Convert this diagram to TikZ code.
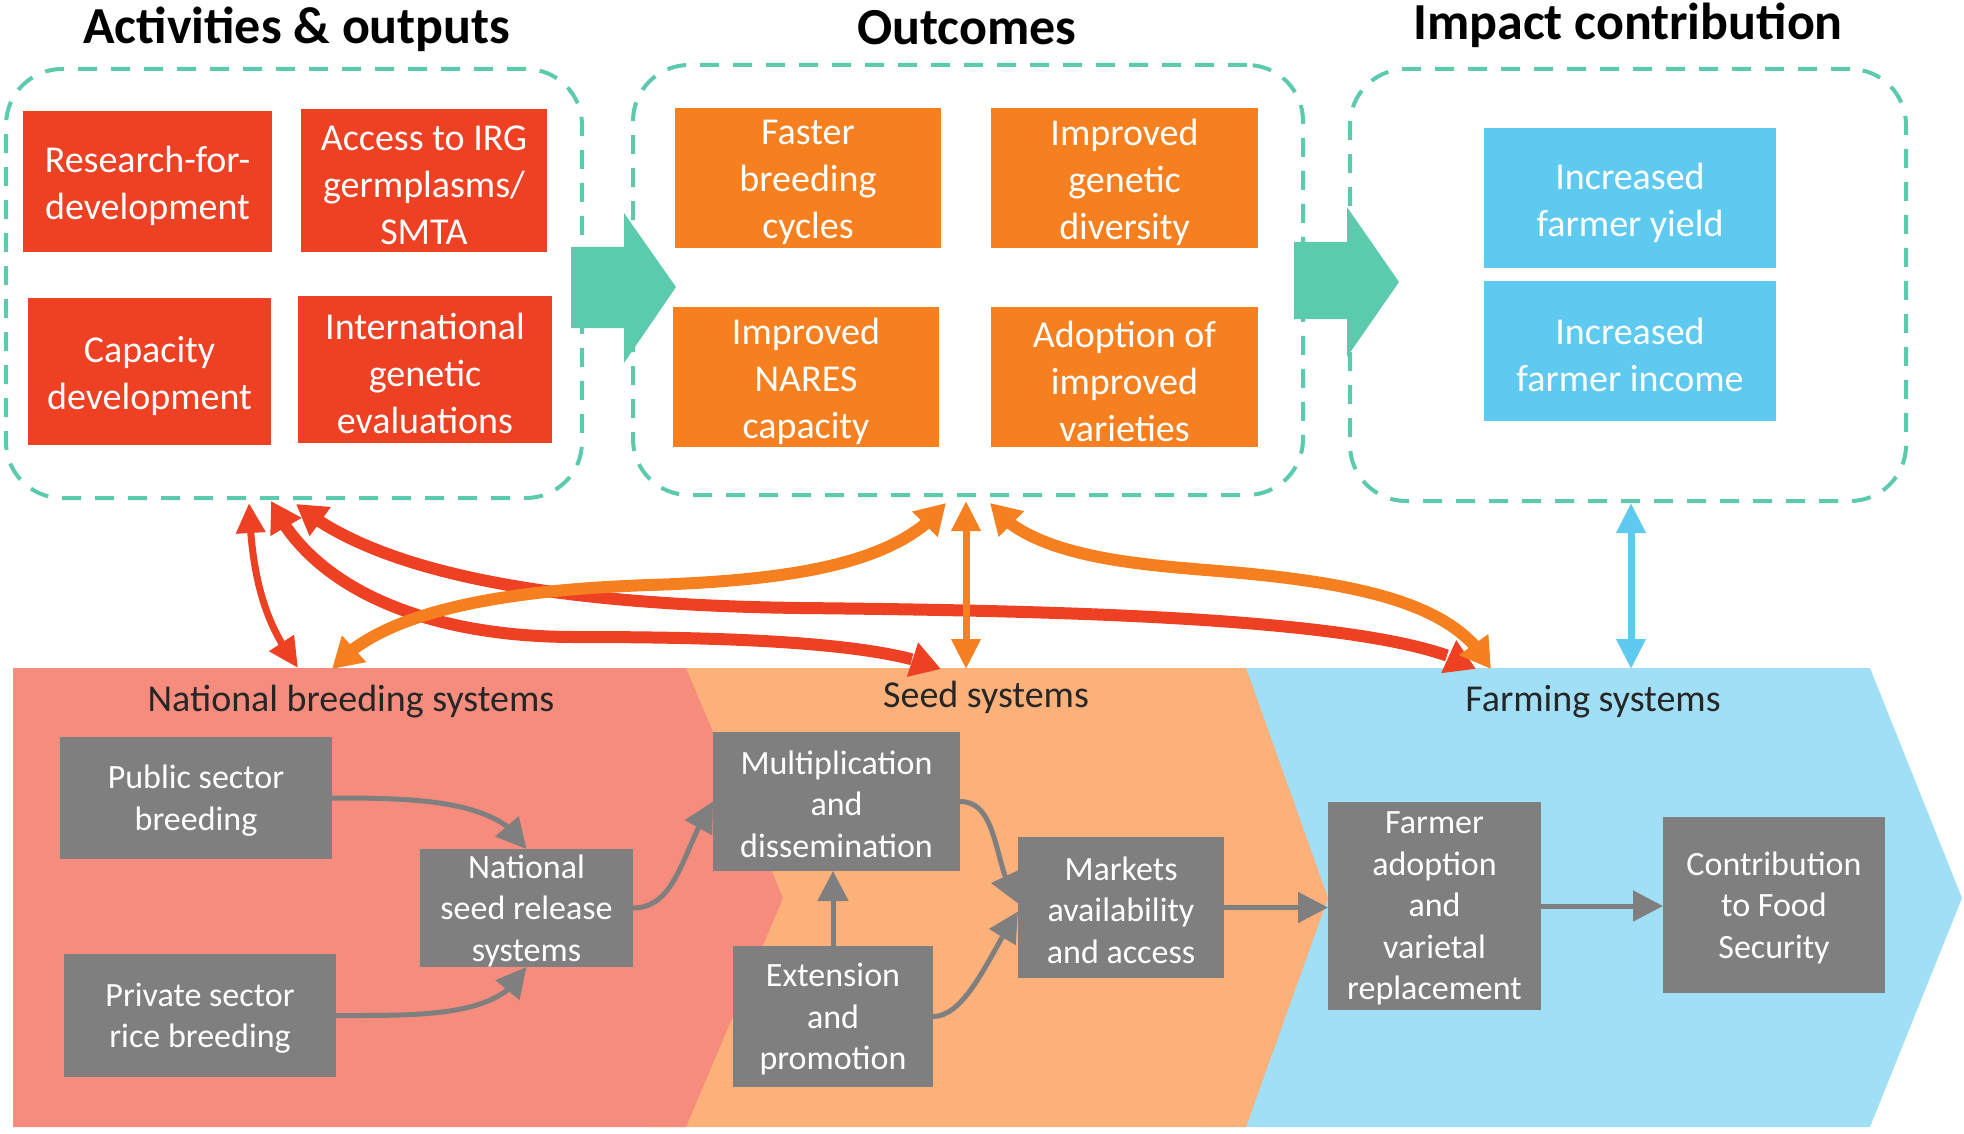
\documentclass[tikz,border=0pt]{standalone}
\usepackage{fontspec}
\setmainfont{Carlito}
\usetikzlibrary{arrows.meta,bending}
\definecolor{cred}{RGB}{238,64,35}
\definecolor{corange}{RGB}{246,128,32}
\definecolor{cblue}{RGB}{94,202,240}
\definecolor{cteal}{RGB}{92,203,173}
\definecolor{csalmon}{RGB}{245,140,125}
\definecolor{cpeach}{RGB}{252,176,122}
\definecolor{clblue}{RGB}{160,223,246}
\definecolor{cgray}{RGB}{127,127,127}
\definecolor{cdark}{RGB}{38,38,38}
\tikzset{
  box/.style={rectangle, inner sep=0pt, outer sep=0pt},
  btxt/.style={inner sep=0pt, align=center, text=white, font=\fontsize{19}{23.5}\selectfont, yshift=-2.2pt},
  gtxt/.style={inner sep=0pt, align=center, text=white, font=\fontsize{17}{20.7}\selectfont, yshift=-1.3pt},
  redbox/.style={box, fill=cred},
  orbox/.style={box, fill=corange},
  blbox/.style={box, fill=cblue},
  gbox/.style={box, fill=cgray},
  dbox/.style={rectangle, draw=cteal, line width=2pt, dash pattern=on 9.5pt off 7pt, rounded corners=28pt, inner sep=0pt},
  title/.style={font=\bfseries\fontsize{26}{30}\selectfont, text=black},
  seclabel/.style={font=\fontsize{19}{23}\selectfont, text=cdark},
  garrow/.style={draw=cgray, line width=2.5pt, -{Triangle[length=15pt,width=15pt,flex]}},
  bigtip/.style={{Triangle[length=15pt,width=17pt,flex]}-{Triangle[length=15pt,width=17pt,flex]}},
  thicklink/.style={line width=6pt, bigtip},
  thinlink/.style={line width=3.5pt, {Triangle[length=15pt,width=14pt,flex]}-{Triangle[length=15pt,width=14pt,flex]}},
}
\begin{document}
\begin{tikzpicture}[x=0.5pt,y=-0.5pt]
\useasboundingbox (0,0) rectangle (1964,1134);

% ---- bottom panels
\fill[clblue] (1200,668) -- (1870,668) -- (1962,898) -- (1870,1127) -- (1200,1127) -- cycle;
\fill[cpeach] (650,668) -- (1246,668) -- (1328,898) -- (1246,1127) -- (650,1127) -- cycle;
\fill[csalmon] (13,668) -- (686,668) -- (783,898) -- (686,1127) -- (13,1127) -- cycle;

% ---- titles
\node[title] (t1) at (297,29) {Activities \& outputs};
\node[title] (t2) at (967,27.5) {Outcomes};
\node[title] (t3) at (1628,25) {Impact contribution};

% ---- dashed group boxes
\node[dbox, minimum width=288pt, minimum height=214.5pt] (dl) at (294,283.5) {};
\node[dbox, minimum width=335pt, minimum height=215pt] (dm) at (968,280) {};
\node[dbox, minimum width=278pt, minimum height=216pt] (dr) at (1628,285) {};

% ---- teal arrows
\fill[cteal] (571,247) -- (624,247) -- (624,213) -- (676,287) -- (624,363) -- (624,328) -- (571,328) -- cycle;
\fill[cteal] (1294,242) -- (1347,242) -- (1347,207) -- (1399,282) -- (1347,357) -- (1347,319) -- (1294,319) -- cycle;

% ---- activity boxes
\node[redbox, minimum width=124.5pt, minimum height=70.5pt, label={[btxt]center:{Research-for-\\development}}] (r1) at (147.5,181.5) {};
\node[redbox, minimum width=123pt, minimum height=71.5pt, label={[btxt]center:{Access to IRG\\germplasms/\\SMTA}}] (r2) at (424,180.5) {};
\node[redbox, minimum width=121.5pt, minimum height=73.5pt, label={[btxt]center:{Capacity\\development}}] (r3) at (149.5,371.5) {};
\node[redbox, minimum width=127pt, minimum height=73.5pt, label={[btxt]center:{International\\genetic\\evaluations}}] (r4) at (425,369.5) {};

% ---- outcome boxes
\node[orbox, minimum width=133pt, minimum height=70pt, label={[btxt]center:{Faster\\breeding\\cycles}}] (o1) at (808,178) {};
\node[orbox, minimum width=133.5pt, minimum height=70pt, label={[btxt]center:{Improved\\genetic\\diversity}}] (o2) at (1124.5,178) {};
\node[orbox, minimum width=133pt, minimum height=70pt, label={[btxt]center:{Improved\\NARES\\capacity}}] (o3) at (806,377) {};
\node[orbox, minimum width=133.5pt, minimum height=70pt, label={[btxt]center:{Adoption of\\improved\\varieties}}] (o4) at (1124.5,377) {};

% ---- impact boxes
\node[blbox, minimum width=146pt, minimum height=70pt, label={[btxt]center:{Increased\\farmer yield}}] (b1) at (1630,198) {};
\node[blbox, minimum width=146pt, minimum height=70pt, label={[btxt]center:{Increased\\farmer income}}] (b2) at (1630,351) {};

% ---- section labels
\node[seclabel] (s1) at (351,701.5) {National breeding systems};
\node[seclabel] (s2) at (986,697.5) {Seed systems};
\node[seclabel] (s3) at (1593,701.5) {Farming systems};

% ---- grey process boxes
\node[gbox, minimum width=136pt, minimum height=61pt, label={[gtxt]center:{Public sector\\breeding}}] (g1) at (196,798) {};
\node[gbox, minimum width=136pt, minimum height=61.5pt, label={[gtxt]center:{Private sector\\rice breeding}}] (g2) at (200,1015.5) {};
\node[gbox, minimum width=106.5pt, minimum height=59pt, label={[gtxt]center:{National\\seed release\\systems}}] (g3) at (526.5,908) {};
\node[gbox, minimum width=123.5pt, minimum height=69.5pt, label={[gtxt]center:{Multiplication\\and\\dissemination}}] (g4) at (836.5,801.5) {};
\node[gbox, minimum width=100pt, minimum height=70.5pt, label={[gtxt]center:{Extension\\and\\promotion}}] (g5) at (833,1016.5) {};
\node[gbox, minimum width=103pt, minimum height=70.5pt, label={[gtxt]center:{Markets\\availability\\and access}}] (g6) at (1121,907.5) {};
\node[gbox, minimum width=106.5pt, minimum height=104pt, label={[gtxt]center:{Farmer\\adoption\\and\\varietal\\replacement}}] (g7) at (1434.5,906) {};
\node[gbox, minimum width=111pt, minimum height=88pt, label={[gtxt]center:{Contribution\\to Food\\Security}}] (g8) at (1774,905) {};

% ---- grey arrows
\draw[garrow] (g1.east) .. controls +(80,0) and +(-25,-50) .. (g3.north);
\draw[garrow] (g2.east) .. controls +(90,0) and +(-25,50) .. (g3.south);
\draw[garrow] (g3.east) .. controls +(45,0) and +(-30,45) .. (g4.west);
\draw[garrow] (g5.north) -- (g5.north |- g4.south);
\draw[garrow] (g4.east) .. controls +(40,0) and +(-25,-35) .. ([yshift=2pt]g6.west);
\draw[garrow] (g5.east) .. controls +(35,0) and +(-25,35) .. ([yshift=-2pt]g6.west);
\draw[garrow] (g6.east) -- (g6.east -| g7.west);
\draw[garrow] (g7.east) -- (g7.east -| g8.west);

% ---- link end points
\coordinate (ra1) at (249,503);  \coordinate (rb1) at (298,668);
\coordinate (ra2) at (271,501);  \coordinate (rb2) at (941,669);
\coordinate (ra3) at (296,504);  \coordinate (rb3) at (1476,669);
\coordinate (oa4) at (946,503);  \coordinate (ob4) at (332,669);
\coordinate (oa5) at (966,501);  \coordinate (ob5) at (966,669);
\coordinate (oa6) at (990,503);  \coordinate (ob6) at (1491,669);
\coordinate (ba7) at (1631,503); \coordinate (bb7) at (1631,669);

% ---- big links
\draw[cred, thicklink] (ra3) .. controls (380,575) and (560,605) .. (800,608) .. controls (1100,611) and (1400,620) .. (rb3);
\draw[cred, thicklink] (ra2) .. controls (310,585) and (420,637) .. (575,637) .. controls (730,637) and (880,642) .. (rb2);
\draw[cred, thinlink] (ra1) .. controls (252,590) and (270,630) .. (rb1);
\draw[corange, thicklink] (oa4) .. controls (900,562) and (800,580) .. (650,585) .. controls (500,590) and (380,612) .. (ob4);
\draw[corange, thinlink] (oa5) -- (ob5);
\draw[corange, thicklink] (oa6) .. controls (1030,560) and (1150,565) .. (1230,572) .. controls (1380,585) and (1460,610) .. (ob6);
\draw[cblue, thinlink] (ba7) -- (bb7);
\end{tikzpicture}
\end{document}
